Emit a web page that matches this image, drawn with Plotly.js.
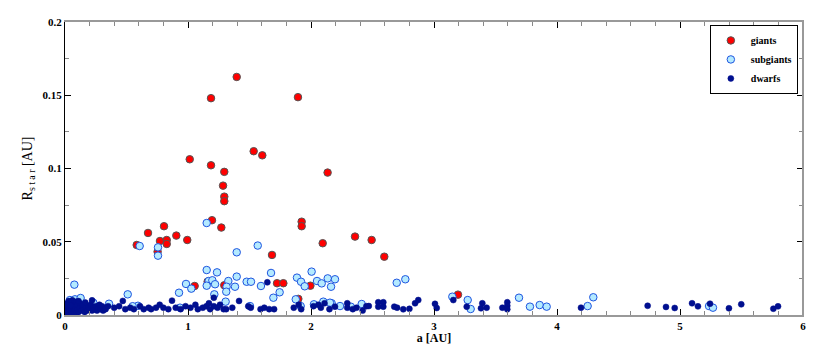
<!DOCTYPE html>
<html>
<head>
<meta charset="utf-8">
<script src="https://cdn.plot.ly/plotly-3.0.1.min.js"></script>
<style>
  html, body { margin: 0; padding: 0; background: #fff; }
  #chart { width: 830px; height: 345px; }
</style>
</head>
<body>
<div id="chart"></div>
<script>
// giants (red)
var giantA = [1.396, 1.187, 1.894, 1.014, 1.187, 1.295, 1.534, 1.604, 2.135, 1.285,
  1.295, 1.295, 1.195, 1.271, 0.805, 0.675, 0.905, 0.994, 0.772, 0.827,
  0.827, 0.583, 0.753, 1.924, 1.924, 2.095, 1.683, 2.358, 2.493, 2.596,
  1.995, 3.195, 1.054, 1.724, 1.775, 1.897, 1.16, 1.295]
var giantR = [0.1625, 0.148, 0.1487, 0.1063, 0.1022, 0.0977, 0.1118, 0.109, 0.0972, 0.0883,
  0.0808, 0.0777, 0.0647, 0.0597, 0.0606, 0.056, 0.0542, 0.0512, 0.0505, 0.0512,
  0.0485, 0.0478, 0.0432, 0.0637, 0.0606, 0.049, 0.041, 0.0535, 0.0512, 0.0398,
  0.02, 0.0139, 0.0198, 0.0217, 0.0217, 0.011, 0.0228, 0.0203]

// subgiants (light blue, open)
var subA = [0.04, 0.076, 0.081, 0.127, 0.23, 0.358, 0.51, 0.593, 0.607, 0.756,
  0.756, 0.927, 0.935, 0.984, 1.027, 1.152, 1.152, 1.236, 1.396, 1.675,
  2.005, 1.168, 1.198, 1.22, 1.152, 1.328, 1.314, 1.382, 1.311, 1.477,
  1.512, 1.593, 1.886, 1.919, 1.949, 2.049, 2.087, 2.136, 2.163, 1.214,
  1.306, 1.876, 2.024, 2.1, 2.168, 2.195, 2.697, 2.767, 2.154, 2.236,
  2.323, 2.412, 3.149, 3.274, 3.298, 3.691, 3.78, 3.859, 3.916, 4.249,
  4.295, 5.236, 5.268, 1.396, 1.567, 0.02, 0.55, 1.694, 1.745, 1.916, 1.504]
var subR = [0.0102, 0.0207, 0.0107, 0.0116, 0.0084, 0.0077, 0.0141, 0.0063, 0.0471, 0.0462,
  0.0405, 0.0152, 0.005, 0.0212, 0.018, 0.0628, 0.0307, 0.0291, 0.0262, 0.0287,
  0.0296, 0.0232, 0.0237, 0.021, 0.02, 0.0232, 0.0193, 0.0193, 0.0159, 0.0227,
  0.0227, 0.0198, 0.0255, 0.0227, 0.0196, 0.0232, 0.0216, 0.025, 0.0193, 0.0141,
  0.0091, 0.0107, 0.0073, 0.0091, 0.008, 0.0244, 0.022, 0.0244, 0.0084, 0.0061,
  0.0057, 0.0075, 0.0125, 0.0102, 0.0041, 0.0118, 0.0057, 0.0068, 0.0057, 0.0061,
  0.0121, 0.0061, 0.005, 0.0428, 0.0474, 0.004, 0.006, 0.0118, 0.0155, 0.0061, 0.0061]

// dwarfs (dark blue)
var dwarfA = [0.01, 0.02, 0.02, 0.03, 0.03, 0.04, 0.04, 0.05, 0.05, 0.06,
  0.06, 0.07, 0.07, 0.08, 0.08, 0.09, 0.09, 0.10, 0.10, 0.11,
  0.12, 0.12, 0.13, 0.14, 0.15, 0.15, 0.16, 0.17, 0.18, 0.19,
  0.20, 0.21, 0.22, 0.22, 0.23, 0.24, 0.25, 0.26, 0.27, 0.28,
  0.29, 0.30, 0.31, 0.32, 0.33, 0.35, 0.02, 0.05, 0.03, 0.015,
  0.045, 0.11, 0.165,
  0.40, 0.44, 0.47, 0.49, 0.53, 0.56, 0.61, 0.64, 0.68, 0.70,
  0.74, 0.77, 0.80, 0.84, 0.87, 0.90, 0.94, 0.98, 1.02, 1.06,
  1.08, 1.12, 1.15, 1.17, 1.18, 1.21, 1.21, 1.24, 1.26, 1.29,
  1.31, 1.36, 1.415, 1.49, 1.51, 1.59, 1.62, 1.645, 1.66, 1.70,
  1.86, 1.90, 1.92, 2.02, 2.06, 2.08, 2.11, 2.15, 2.195, 2.295,
  2.295, 2.34, 2.37, 2.42, 2.45, 2.47, 2.547, 2.547, 2.588, 2.588,
  2.677, 2.70, 2.75, 2.80, 2.846, 2.872, 3.008, 3.022, 3.157, 3.266,
  3.382, 3.393, 3.428, 3.556, 3.596, 3.596, 3.596, 4.195, 4.737, 4.886,
  4.957, 5.098, 5.146, 5.244, 5.398, 5.498, 5.759, 5.797]
var dwarfR = [0.002, 0.005, 0.008, 0.003, 0.006, 0.009, 0.001, 0.004, 0.007, 0.002,
  0.010, 0.005, 0.008, 0.003, 0.006, 0.001, 0.009, 0.004, 0.007, 0.002,
  0.005, 0.008, 0.003, 0.006, 0.004, 0.007, 0.002, 0.005, 0.003, 0.006,
  0.004, 0.007, 0.010, 0.003, 0.005, 0.004, 0.006, 0.003, 0.005, 0.007,
  0.004, 0.006, 0.003, 0.005, 0.004, 0.006, 0.001, 0.0005, 0.0095, 0.007,
  0.0065, 0.0095, 0.0085,
  0.005, 0.006, 0.0096, 0.004, 0.005, 0.004, 0.006, 0.004, 0.005, 0.004,
  0.005, 0.007, 0.005, 0.004, 0.0098, 0.005, 0.004, 0.006, 0.005, 0.007,
  0.004, 0.005, 0.006, 0.008, 0.004, 0.0118, 0.006, 0.005, 0.007, 0.004,
  0.004, 0.005, 0.0096, 0.006, 0.005, 0.004, 0.005, 0.0223, 0.004, 0.004,
  0.005, 0.007, 0.004, 0.006, 0.007, 0.005, 0.008, 0.004, 0.0057, 0.008,
  0.005, 0.004, 0.005, 0.003, 0.006, 0.0061, 0.0087, 0.0057, 0.0087, 0.0057,
  0.0057, 0.005, 0.0039, 0.0042, 0.008, 0.0102, 0.0076, 0.0048, 0.0102, 0.0057,
  0.0046, 0.008, 0.005, 0.005, 0.0087, 0.0063, 0.0039, 0.005, 0.0063, 0.0055,
  0.0048, 0.008, 0.0059, 0.0077, 0.0046, 0.0073, 0.0043, 0.0059]

var serif = 'Liberation Serif, Times New Roman, serif'

var data = [
  {x: giantA, y: giantR, name: 'giants', mode: 'markers', type: 'scatter',
   marker: {size: 7.5, color: '#ff0000', line: {color: '#555555', width: 1}}},
  {x: subA, y: subR, name: 'subgiants', mode: 'markers', type: 'scatter',
   marker: {size: 7.5, color: '#b4eaff', line: {color: '#1f55e0', width: 1}}},
  {x: dwarfA, y: dwarfR, name: 'dwarfs', mode: 'markers', type: 'scatter',
   marker: {size: 6, color: '#000f8f', line: {color: '#000f8f', width: 0.5}}}
]

var layout = {
  width: 830, height: 345,
  margin: {l: 65, r: 27, t: 22, b: 30},
  paper_bgcolor: '#fff', plot_bgcolor: '#fff',
  showlegend: true,
  legend: {x: 0.993, y: 0.99, xanchor: 'right', yanchor: 'top',
    bordercolor: '#000', borderwidth: 1, bgcolor: '#fff',
    font: {family: serif, size: 10, color: '#000', weight: 'bold'},
    tracegroupgap: 0, itemwidth: 30},
  xaxis: {
    range: [0, 6], dtick: 1, tick0: 0,
    showgrid: false, zeroline: false,
    showline: true, linecolor: '#999', linewidth: 2, mirror: 'ticks',
    ticks: 'inside', ticklen: 6, tickcolor: '#000', tickwidth: 1,
    minor: {dtick: 0.2, ticks: 'inside', ticklen: 4, tickcolor: '#888', showgrid: false},
    tickfont: {family: serif, size: 11, color: '#000', weight: 'bold'},
    title: {text: 'a [AU]', font: {family: serif, size: 12, color: '#000', weight: 'bold'}, standoff: 4}
  },
  yaxis: {
    range: [0, 0.2], dtick: 0.05, tick0: 0,
    showgrid: false, zeroline: false,
    showline: true, linecolor: '#000', linewidth: 1, mirror: 'ticks',
    ticks: 'inside', ticklen: 6, tickcolor: '#000', tickwidth: 1,
    minor: {dtick: 0.025, ticks: 'inside', ticklen: 4, tickcolor: '#888', showgrid: false},
    tickfont: {family: serif, size: 11, color: '#000', weight: 'bold'},
    title: {text: 'R<sub>s t a r</sub> [AU]', font: {family: serif, size: 14, color: '#000'}, standoff: 6}
  },
  shapes: [
    {type: 'line', xref: 'paper', yref: 'paper', x0: 1, x1: 1, y0: 0, y1: 1,
     line: {color: '#999', width: 2}, layer: 'above'}
  ]
}

Plotly.newPlot('chart', data, layout, {displayModeBar: false, staticPlot: true})
</script>
</body>
</html>
